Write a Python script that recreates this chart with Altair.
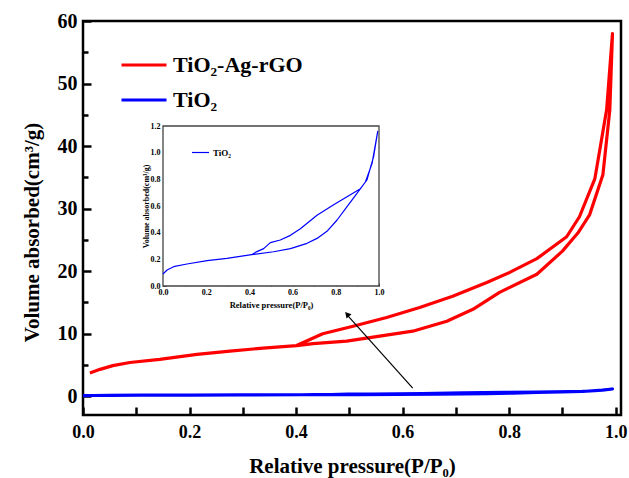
import altair as alt
import pandas as pd

# ---------------- data ----------------
# TiO2-Ag-rGO isotherm: adsorption branch (lower) then desorption branch (upper)
rgo_ads_x = [0.013, 0.032, 0.056, 0.088, 0.144, 0.214, 0.276, 0.338, 0.401, 0.432, 0.495,
             0.557, 0.619, 0.683, 0.732, 0.782, 0.852, 0.900, 0.929, 0.951, 0.976, 0.989, 0.994]
rgo_ads_y = [3.7, 4.3, 4.9, 5.4, 5.9, 6.7, 7.2, 7.7, 8.1, 8.4, 8.8,
             9.6, 10.4, 12.0, 13.9, 16.6, 19.5, 23.2, 26.1, 29.0, 35.4, 45.8, 58.0]
rgo_des_x = [0.994, 0.983, 0.961, 0.932, 0.908, 0.852, 0.801, 0.758, 0.694, 0.632, 0.570,
             0.507, 0.450, 0.401]
rgo_des_y = [58.0, 45.8, 34.8, 28.7, 25.5, 22.0, 19.8, 18.2, 16.0, 14.2, 12.6,
             11.2, 10.0, 8.1]

# TiO2 isotherm
tio_ads_x = [0.0, 0.019, 0.049, 0.111, 0.204, 0.296, 0.41, 0.512, 0.59, 0.667, 0.713,
             0.759, 0.806, 0.852, 0.898, 0.937, 0.968, 0.994]
tio_ads_y = [0.09, 0.12, 0.145, 0.165, 0.19, 0.207, 0.235, 0.257, 0.28, 0.32, 0.357,
             0.41, 0.495, 0.595, 0.695, 0.78, 0.92, 1.16]
tio_des_x = [0.994, 0.975, 0.944, 0.914, 0.852, 0.79, 0.713, 0.636, 0.59, 0.543, 0.497,
             0.466, 0.435, 0.41]
tio_des_y = [1.16, 0.97, 0.795, 0.73, 0.67, 0.61, 0.53, 0.43, 0.38, 0.345, 0.325,
             0.28, 0.258, 0.235]

series_names = ["TiO₂-Ag-rGO", "TiO₂"]
series_colors = ["#ff0000", "#0000ff"]

main_x_domain = [0, 1.01]
main_y_domain = [-3, 60]
main_x_ticks = [0.0, 0.1, 0.2, 0.3, 0.4, 0.5, 0.6, 0.7, 0.8, 0.9, 1.0]
main_y_ticks = [0, 5, 10, 15, 20, 25, 30, 35, 40, 45, 50, 55, 60]

inset_x_domain = [0, 1.0]
inset_y_domain = [0, 1.2]
inset_x_ticks = [0.0, 0.1, 0.2, 0.3, 0.4, 0.5, 0.6, 0.7, 0.8, 0.9, 1.0]
inset_y_ticks = [0.0, 0.1, 0.2, 0.3, 0.4, 0.5, 0.6, 0.7, 0.8, 0.9, 1.0, 1.1, 1.2]

# arrow annotation (tail -> head), in main data units
arrow_x = [0.619, 0.497]
arrow_y = [1.3, 12.9]
arrow_head = [0.497, 13.0]

# ---------------- tables ----------------
rows = []
k = 0
for x, y in zip(rgo_ads_x + rgo_des_x, rgo_ads_y + rgo_des_y):
    rows.append({"series": series_names[0], "p": x, "v": y, "order": k}); k += 1
k = 0
for x, y in zip(tio_ads_x + tio_des_x, tio_ads_y + tio_des_y):
    rows.append({"series": series_names[1], "p": x, "v": y, "order": k}); k += 1
main_df = pd.DataFrame(rows)
inset_df = main_df[main_df["series"] == series_names[1]].copy()

SERIF = "Liberation Serif"
W, H = 538, 394
PAD_L, PAD_T = 83, 21

# inset placement (pixels inside plot area)
IN_X0, IN_X1 = 80, 296
IN_Y0, IN_Y1 = 265, 105

MAJ, MIN = 8, 5
main_x_axis = alt.Axis(
    orient="bottom", offset=-MAJ, domain=False, grid=False,
    values=main_x_ticks,
    labelExpr="round(datum.value*10) % 2 == 0 ? format(datum.value, '.1f') : ''",
    ticks=True, tickSize=MAJ, tickWidth=2.5, tickColor="black",
    labelFont=SERIF, labelFontWeight="bold", labelFontSize=18, labelColor="black",
    labelPadding=8, labelFlush=False, labelOverlap=False,
    title="Relative pressure(P/P₀)", titleFont=SERIF, titleFontSize=21, titleFontWeight="bold",
    titleColor="black", titleX=W / 2, titleY=59, titleBaseline="middle", titleAlign="center",
)
main_y_axis = alt.Axis(
    orient="left", offset=-MAJ, domain=False, grid=False,
    values=main_y_ticks,
    labelExpr="datum.value % 10 == 0 ? format(datum.value, 'd') : ''",
    ticks=True, tickSize=MAJ, tickWidth=2.5, tickColor="black",
    tickDash={"condition": {"test": "datum.value % 10 != 0", "value": [0, MAJ - MIN, MIN]},
              "value": []},
    labelFont=SERIF, labelFontWeight="bold", labelFontSize=20, labelColor="black",
    labelPadding=6, labelOverlap=False,
    title="Volume absorbed(cm³/g)", titleFont=SERIF, titleFontSize=21, titleFontWeight="bold",
    titleColor="black", titleX=-59, titleY=211, titleAngle=-90, titleBaseline="middle",
    titleAlign="center",
)

xs_main = alt.Scale(domain=main_x_domain, nice=False, zero=False)
ys_main = alt.Scale(domain=main_y_domain, nice=False, zero=False)

main_lines = alt.Chart(main_df).mark_line(strokeWidth=3.2, strokeJoin="round").encode(
    x=alt.X("p:Q", scale=xs_main, axis=main_x_axis),
    y=alt.Y("v:Q", scale=ys_main, axis=main_y_axis),
    color=alt.Color("series:N", scale=alt.Scale(domain=series_names, range=series_colors),
                    legend=alt.Legend(orient="none", legendX=37, legendY=20, padding=0,
                                      title=None, symbolType="stroke", symbolSize=2025,
                                      symbolStrokeWidth=3, labelFont=SERIF, labelFontSize=22,
                                      labelFontWeight="bold", labelColor="black",
                                      labelOffset=5, rowPadding=-8)),
    order="order:Q",
)

arrow_df = pd.DataFrame({"p": [arrow_x[0]], "p2": [arrow_x[1]], "v": [arrow_y[0]], "v2": [arrow_y[1]]})
arrow_rule = alt.Chart(arrow_df).mark_rule(color="black", strokeWidth=1.2).encode(
    x=alt.X("p:Q", scale=xs_main, axis=main_x_axis), x2="p2:Q",
    y=alt.Y("v:Q", scale=ys_main, axis=main_y_axis), y2="v2:Q",
)
head_df = pd.DataFrame({"p": [arrow_head[0]], "v": [arrow_head[1]]})
arrow_tip = alt.Chart(head_df).mark_point(shape="triangle", filled=True, color="black",
                                          size=45, angle=318, opacity=1).encode(
    x=alt.X("p:Q", scale=xs_main, axis=main_x_axis),
    y=alt.Y("v:Q", scale=ys_main, axis=main_y_axis),
)

main_layer = alt.layer(main_lines, arrow_rule, arrow_tip)

# ---------------- inset ----------------
IMAJ, IMIN = 3, 2
inset_x_axis = alt.Axis(
    orient="bottom", offset=-(H - (IN_Y0 - IMAJ)), domain=False, grid=False,
    values=inset_x_ticks,
    labelExpr="round(datum.value*10) % 2 == 0 ? format(datum.value, '.1f') : ''",
    ticks=True, tickSize=IMAJ, tickWidth=1, tickColor="#333333",
    labelFont=SERIF, labelFontWeight="bold", labelFontSize=8, labelColor="black",
    labelPadding=2, labelFlush=False, labelOverlap=False,
    title="Relative pressure(P/P₀)", titleFont=SERIF, titleFontSize=8.5, titleFontWeight="bold",
    titleColor="black", titleY=21, titleBaseline="middle",
)
inset_y_axis = alt.Axis(
    orient="left", offset=-(IN_X0 + IMAJ), domain=False, grid=False,
    values=inset_y_ticks,
    labelExpr="round(datum.value*10) % 2 == 0 ? format(datum.value, '.1f') : ''",
    ticks=True, tickSize=IMAJ, tickWidth=1, tickColor="#333333",
    labelFont=SERIF, labelFontWeight="bold", labelFontSize=8, labelColor="black",
    labelPadding=3, labelOverlap=False,
    title="Volume absorbed(cm³/g)", titleFont=SERIF, titleFontSize=8, titleFontWeight="bold",
    titleColor="black", titleX=-20, titleAngle=-90, titleBaseline="middle",
)
xs_in = alt.Scale(domain=inset_x_domain, range=[IN_X0, IN_X1], nice=False, zero=False)
ys_in = alt.Scale(domain=inset_y_domain, range=[IN_Y0, IN_Y1], nice=False, zero=False)

frame_df = pd.DataFrame({"p": [inset_x_domain[0]], "p2": [inset_x_domain[1]],
                         "v": [inset_y_domain[0]], "v2": [inset_y_domain[1]]})
inset_frame = alt.Chart(frame_df).mark_rect(fill="white", stroke="#444444", strokeWidth=1.3).encode(
    x=alt.X("p:Q", scale=xs_in, axis=inset_x_axis), x2="p2:Q",
    y=alt.Y("v:Q", scale=ys_in, axis=inset_y_axis), y2="v2:Q",
)
inset_line = alt.Chart(inset_df).mark_line(strokeWidth=1.2, strokeJoin="round").encode(
    x=alt.X("p:Q", scale=xs_in, axis=inset_x_axis),
    y=alt.Y("v:Q", scale=ys_in, axis=inset_y_axis),
    color=alt.Color("series:N", scale=alt.Scale(domain=[series_names[1]], range=[series_colors[1]]),
                    legend=alt.Legend(orient="none", legendX=108, legendY=122, padding=0,
                                      title=None, symbolType="stroke", symbolSize=289,
                                      symbolStrokeWidth=1.2, labelFont=SERIF, labelFontSize=9,
                                      labelFontWeight="bold", labelColor="black", labelOffset=3)),
    order="order:Q",
)
inset_layer = alt.layer(inset_frame, inset_line)

chart = alt.layer(main_layer, inset_layer).resolve_scale(
    x="independent", y="independent", color="independent"
).properties(
    width=W, height=H,
    padding={"left": PAD_L, "top": PAD_T, "right": 629 - PAD_L - W, "bottom": 478 - PAD_T - H},
    autosize=alt.AutoSizeParams(type="none"),
    background="white",
).configure_view(stroke="black", strokeWidth=2.5).configure_axis(ticks=True)

chart.save("out.html", embed_options={"renderer": "svg", "actions": False})
